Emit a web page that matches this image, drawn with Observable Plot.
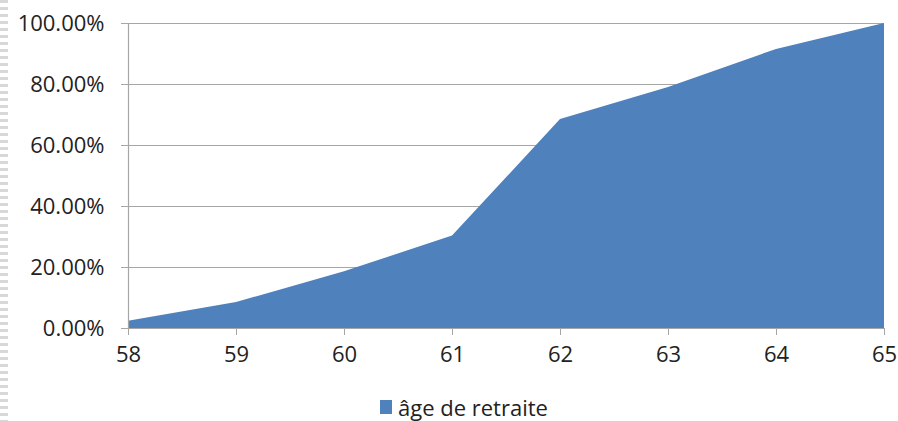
<!DOCTYPE html>
<html>
<head>
<meta charset="utf-8">
<script src="https://cdn.jsdelivr.net/npm/d3@7"></script>
<script src="https://cdn.jsdelivr.net/npm/@observablehq/plot@0.6"></script>
<style>
  html, body { margin: 0; padding: 0; background: #fff; }
  body { width: 898px; height: 421px; overflow: hidden; position: relative;
         font-family: "Open Sans", "Liberation Sans", sans-serif; }
  #edge { position: absolute; left: 0; top: 0; width: 8px; height: 421px;
          background: repeating-linear-gradient(to bottom, #d8d8d8 0 3px, #fff 3px 7px); }
  #chart { position: absolute; left: 0; top: 0; }
  #legend { position: absolute; left: 380px; top: 394px; display: flex; align-items: center;
            font-size: 22px; line-height: 26px; color: #222; }
  #legend .sw { width: 12px; height: 14px; background: #4f81bd; margin-right: 6px; }
</style>
</head>
<body>
<div id="edge"></div>
<div id="chart"></div>
<div id="legend"><span class="sw"></span><span>âge de retraite</span></div>
<script>
const ages = [58, 59, 60, 61, 62, 63, 64, 65];
const shares = [0.024, 0.085, 0.186, 0.303, 0.685, 0.79, 0.915, 1.0];
const yTicks = [0, 0.2, 0.4, 0.6, 0.8, 1.0];
const seriesName = "âge de retraite";

const data = ages.map((a, i) => ({age: a, share: shares[i], series: seriesName}));

const chart = Plot.plot({
  width: 898,
  height: 380,
  marginLeft: 128,
  marginRight: 14,
  marginTop: 23,
  marginBottom: 52,
  style: {fontFamily: "'Open Sans', 'Liberation Sans', sans-serif", fontSize: "22px", color: "#222", background: "transparent"},
  x: {domain: [58, 65], label: null},
  y: {domain: [0, 1], label: null},
  marks: [
    Plot.ruleY(yTicks.filter(d => d > 0), {stroke: "#a6a6a6", strokeWidth: 1.2, strokeOpacity: 1}),
    Plot.areaY(data, {x: "age", y: "share", fill: "#4f81bd"}),
    Plot.ruleX([58], {stroke: "#a6a6a6", strokeWidth: 1.2}),
    Plot.ruleY([0], {stroke: "#a6a6a6", strokeWidth: 1.2}),
    Plot.axisY({ticks: yTicks, tickFormat: d3.format(".2%"), tickSize: 7, tickPadding: 17, stroke: "#a6a6a6", fill: "#222", fontSize: 22, label: null}),
    Plot.axisX({ticks: ages, tickFormat: d => String(d), tickSize: 7, tickPadding: 11, stroke: "#a6a6a6", fill: "#222", fontSize: 22, label: null})
  ]
});
document.getElementById("chart").appendChild(chart);
</script>
</body>
</html>
